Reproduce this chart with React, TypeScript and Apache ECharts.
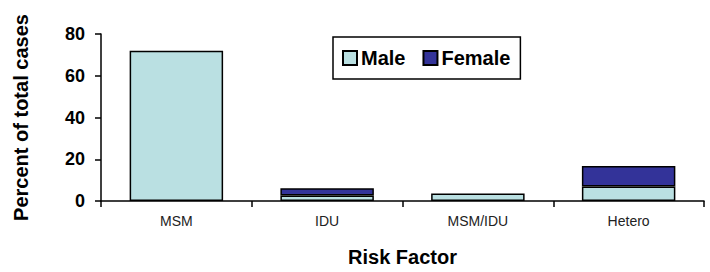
import React, { useEffect, useRef } from "react";
import * as echarts from "echarts";

const categories = ["MSM", "IDU", "MSM/IDU", "Hetero"];
const maleValues = [72, 2.6, 3.6, 6.9];
const femaleValues: (number | null)[] = [null, 3.5, null, 9.9];
const yTicks = { min: 0, max: 80, interval: 20 };

export default function App() {
  const ref = useRef<HTMLDivElement>(null);
  useEffect(() => {
    if (!ref.current) return;
    const chart = echarts.init(ref.current, undefined, { renderer: "svg" });
    const font = "'Liberation Sans', Arial, sans-serif";
    chart.setOption({
      animation: false,
      textStyle: { fontFamily: font },
      grid: { left: 101, right: 6, top: 34, bottom: 67 },
      legend: {
        left: 333,
        top: 37,
        orient: "horizontal",
        backgroundColor: "#fff",
        borderColor: "#000",
        borderWidth: 1.5,
        borderRadius: 0,
        padding: [11, 10, 11, 9],
        itemWidth: 14,
        itemHeight: 14,
        itemGap: 17,
        icon: "rect",
        textStyle: { fontSize: 20, fontWeight: "bold", color: "#000", fontFamily: font, padding: [0, 0, 0, -1] },
        data: ["Male", "Female"],
      },
      xAxis: {
        type: "category",
        data: categories,
        name: "Risk Factor",
        nameLocation: "middle",
        nameGap: 46,
        nameTextStyle: { fontSize: 20, fontWeight: "bold", color: "#000", fontFamily: font },
        axisLine: { lineStyle: { color: "#000", width: 1.5 } },
        axisTick: { show: true, alignWithLabel: false, length: 6, lineStyle: { color: "#000", width: 1.5 } },
        axisLabel: { fontSize: 14, color: "#222", margin: 13, fontFamily: font },
        splitLine: { show: false },
      },
      yAxis: {
        type: "value",
        min: yTicks.min,
        max: yTicks.max,
        interval: yTicks.interval,
        name: "Percent of total cases",
        nameLocation: "middle",
        nameGap: 70,
        nameTextStyle: { fontSize: 20, fontWeight: "bold", color: "#000", fontFamily: font },
        axisLine: { show: true, lineStyle: { color: "#000", width: 1.5 } },
        axisTick: { show: true, length: 6, lineStyle: { color: "#000", width: 1.5 } },
        axisLabel: { fontSize: 18, fontWeight: "bold", color: "#000", margin: 16, fontFamily: font },
        splitLine: { show: false },
      },
      series: [
        {
          name: "Male",
          type: "bar",
          stack: "total",
          data: maleValues,
          barCategoryGap: "38%",
          itemStyle: { color: "#BAE0E2", borderColor: "#000", borderWidth: 1.5 },
        },
        {
          name: "Female",
          type: "bar",
          stack: "total",
          data: femaleValues,
          barCategoryGap: "38%",
          itemStyle: { color: "#333399", borderColor: "#000", borderWidth: 1.5 },
        },
      ],
    });
    return () => chart.dispose();
  }, []);
  return (
    <div
      ref={ref}
      style={{ position: "fixed", left: 0, top: 0, width: 710, height: 272, background: "#fff" }}
    />
  );
}
